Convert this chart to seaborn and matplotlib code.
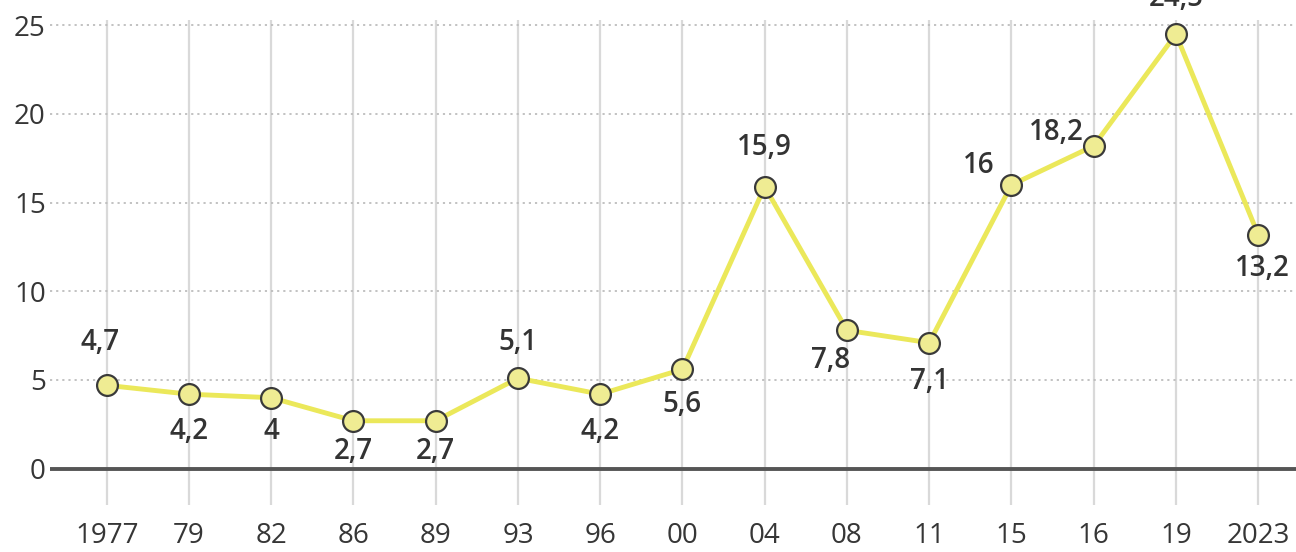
import matplotlib
matplotlib.use("Agg")
import matplotlib.pyplot as plt
import seaborn as sns
import pandas as pd
import numpy as np

years = ["1977", "79", "82", "86", "89", "93", "96", "00", "04", "08", "11", "15", "16", "19", "2023"]
values = [4.7, 4.2, 4.0, 2.7, 2.7, 5.1, 4.2, 5.6, 15.9, 7.8, 7.1, 16.0, 18.2, 24.5, 13.2]
labels = ["4,7", "4,2", "4", "2,7", "2,7", "5,1", "4,2", "5,6", "15,9", "7,8", "7,1", "16", "18,2", "24,5", "13,2"]
yticks = [0, 5, 10, 15, 20, 25]

sns.set_theme(style="white")
plt.rcParams['font.family'] = ['Open Sans', 'DejaVu Sans']

df = pd.DataFrame({"year": years, "value": values})

fig = plt.figure(figsize=(12.96, 5.52), dpi=100)
ax = fig.add_axes([50/1296, 1 - 505/552, 1 - 50/1296, (505 - 20)/552])

line_col = "#ebe85a"
sns.pointplot(data=df, x="year", y="value", ax=ax, errorbar=None,
              color=line_col, markers="o", linestyles="-",
              markersize=15, linewidth=3.5,
              markerfacecolor="#efec93", markeredgecolor="#3a3a3a",
              markeredgewidth=1.6, zorder=5)

ax.set_xlim(-0.69, 14.46)
ax.set_ylim(-2.05, 25.3)
ax.set_yticks(yticks)
ax.set_yticklabels([str(t) for t in yticks])
ax.set_xlabel("")
ax.set_ylabel("")

# grid
for yv in yticks[1:]:
    ax.axhline(yv, color="#bdbdbd", linestyle=(0, (1.2, 2.2)), linewidth=1.3, zorder=1)
for i in range(len(years)):
    ax.axvline(i, color="#d9d9d9", linewidth=1.6, zorder=0)
ax.axhline(0, color="#555555", linewidth=2.8, zorder=2)

for s in ax.spines.values():
    s.set_visible(False)
ax.tick_params(axis="both", length=0, labelsize=20, colors="#363636")
ax.tick_params(axis="x", pad=12)
ax.tick_params(axis="y", pad=3)

# data label offsets (dx in categories, dy in data units)
offsets = {
    0: (-0.08, 2.4), 1: (0, -2.1), 2: (0, -1.9), 3: (0, -1.75), 4: (0, -1.75),
    5: (0, 2.0), 6: (0, -2.1), 7: (0, -2.0), 8: (0, 2.2), 9: (-0.2, -1.7),
    10: (0, -2.2), 11: (-0.4, 1.1), 12: (-0.45, 0.75), 13: (0, 2.0), 14: (0.05, -1.9),
}
for i, (v, lab) in enumerate(zip(values, labels)):
    dx, dy = offsets[i]
    ax.text(i + dx, v + dy, lab, ha="center", va="center",
            fontsize=20, fontweight="semibold", color="#333333", zorder=6, clip_on=False)

fig.savefig("out.png", dpi=100)
